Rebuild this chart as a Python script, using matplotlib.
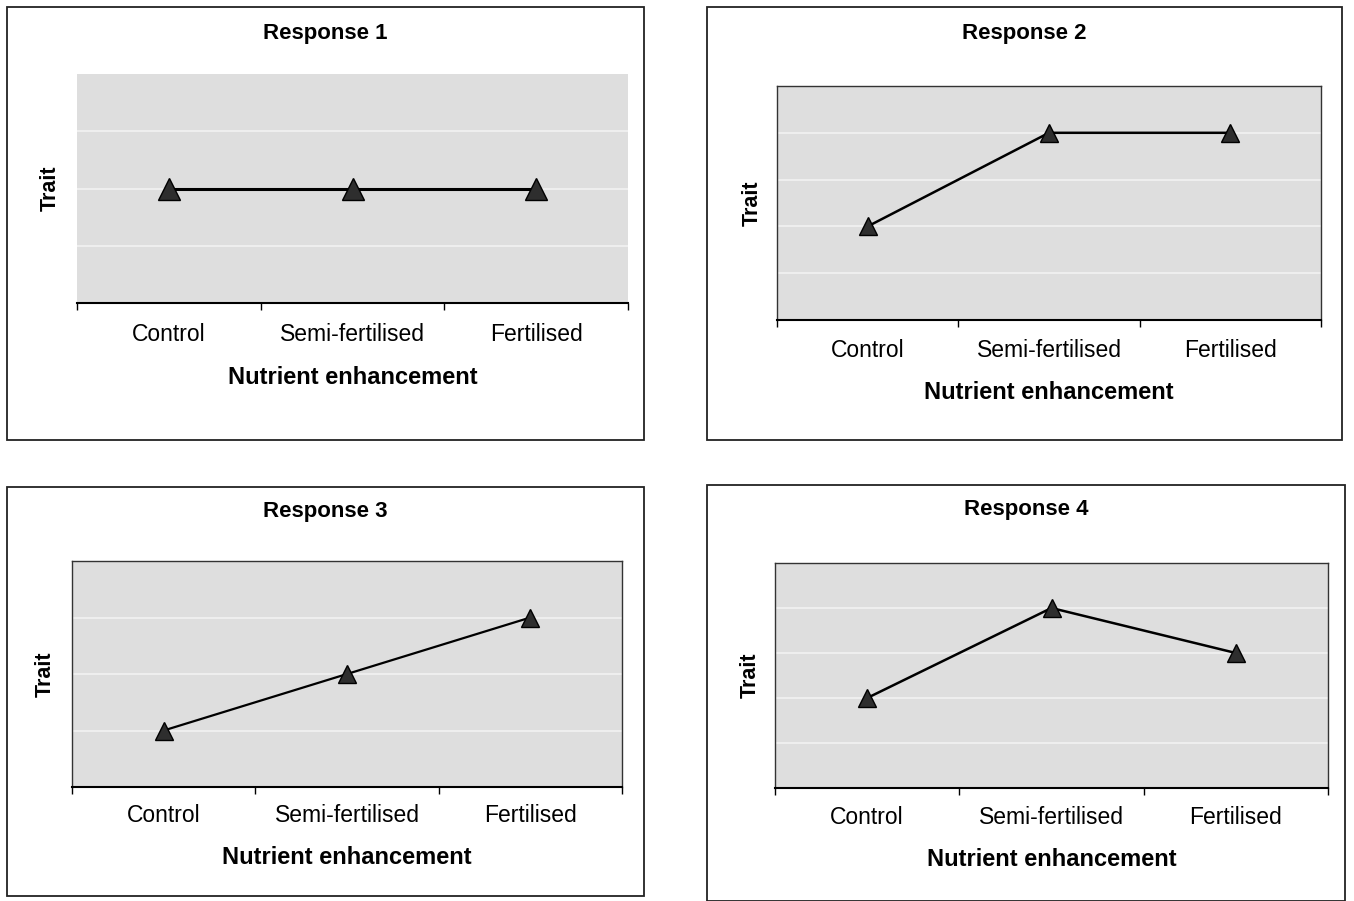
import numpy as np
import matplotlib
matplotlib.use("Agg")
from matplotlib import pyplot as plt
from matplotlib.patches import Rectangle

plt.rcParams["font.family"] = ["Liberation Sans", "DejaVu Sans"]

categories = ["Control", "Semi-fertilised", "Fertilised"]
titles = ["Response 1", "Response 2", "Response 3", "Response 4"]
response1 = [2, 2, 2]
response2 = [2, 4, 4]
response3 = [1, 2, 3]
response4 = [2, 4, 3]
ytops = [4, 5, 4, 5]

W = 1354
H = 901

# pixel layout of each panel: outer box, plot area, title y, tick label y, xlabel y, ylabel x
panels = [
	dict(box=(7, 7, 644, 440), plot=(77, 74, 628, 303), title=34, tick=335, xlab=378, ylab=50, frame=False, ms=16, lw=2.2),
	dict(box=(707, 7, 1342, 440), plot=(777, 86, 1321, 320), title=33, tick=351, xlab=393, ylab=752, frame=True, ms=13.5, lw=1.8),
	dict(box=(7, 487, 644, 896), plot=(72, 561, 622, 787), title=511, tick=816, xlab=857, ylab=45, frame=True, ms=13.5, lw=1.6),
	dict(box=(707, 485, 1345, 901), plot=(775, 563, 1328, 788), title=510, tick=818, xlab=859, ylab=750, frame=True, ms=13.5, lw=1.8),
]
series = [response1, response2, response3, response4]

fig = plt.figure(figsize=(W / 100, H / 100), dpi=100)
fig.patch.set_facecolor("white")

def fx(x):
	return x / W

def fy(y):
	return 1 - y / H

for i in range(4):
	p = panels[i]
	bx0, by0, bx1, by1 = p["box"]
	fig.patches.append(Rectangle((fx(bx0), fy(by1)), fx(bx1 - bx0), (by1 - by0) / H,
		transform=fig.transFigure, fill=False, edgecolor="#222222", linewidth=1.3))
	x0, y0, x1, y1 = p["plot"]
	ax = fig.add_axes([fx(x0), fy(y1), fx(x1 - x0), (y1 - y0) / H])
	ax.set_facecolor("#dedede")
	ax.set_xlim(-0.5, 2.5)
	ax.set_ylim(0, ytops[i])
	ax.set_yticks(range(1, ytops[i]))
	ax.yaxis.grid(True, color="#f2f2f2", linewidth=1.2)
	ax.set_axisbelow(True)
	ax.tick_params(axis="y", left=False, labelleft=False)
	for side in ["left", "right", "top"]:
		ax.spines[side].set_visible(p["frame"])
		ax.spines[side].set_color("#333333")
		ax.spines[side].set_linewidth(1.0)
	ax.spines["bottom"].set_color("black")
	ax.spines["bottom"].set_linewidth(1.5)
	ax.set_xticks([0, 1, 2])
	ax.set_xticklabels(categories, fontsize=16.5)
	pad_px = p["tick"] - y1 - 12
	ax.tick_params(axis="x", which="major", length=0, pad=pad_px * 0.72)
	ax.set_xticks([-0.5, 0.5, 1.5, 2.5], minor=True)
	ax.tick_params(axis="x", which="minor", length=5, width=1.0, direction="out")
	ax.plot([0, 1, 2], series[i], color="black", linewidth=p["lw"],
		marker="^", markersize=p["ms"], markerfacecolor="#2e2e2e", markeredgecolor="black", clip_on=False)
	fig.text(fx((bx0 + bx1) / 2), fy(p["title"]), titles[i], ha="center", va="center",
		fontsize=16, fontweight="bold")
	fig.text(fx((x0 + x1) / 2), fy(p["xlab"]), "Nutrient enhancement", ha="center", va="center",
		fontsize=17, fontweight="bold")
	fig.text(fx(p["ylab"]), fy((y0 + y1) / 2), "Trait", ha="center", va="center",
		rotation=90, fontsize=15.5, fontweight="bold")

plt.savefig("out.png", dpi=100)
